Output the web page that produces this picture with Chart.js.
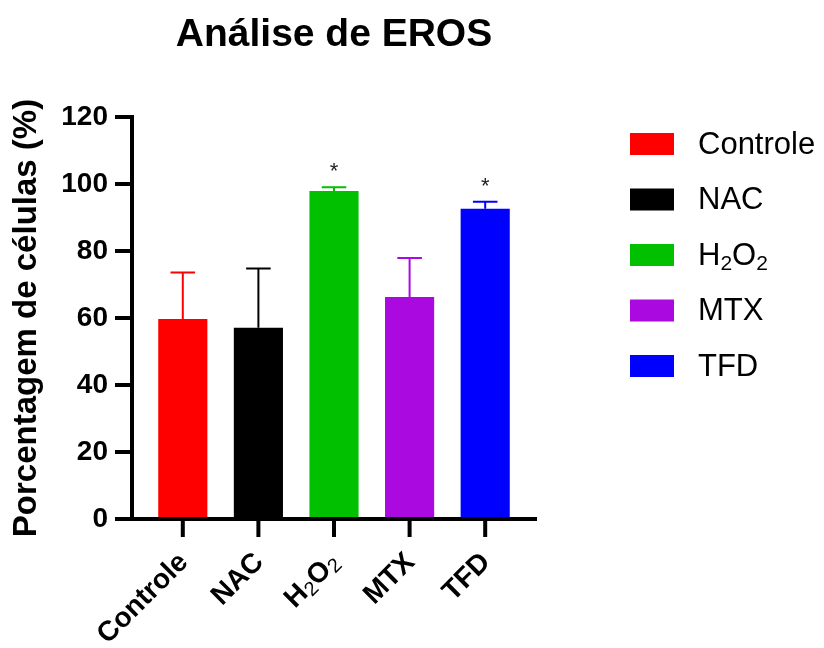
<!DOCTYPE html>
<html>
<head>
<meta charset="utf-8">
<title>Análise de EROS</title>
<script src="https://cdn.jsdelivr.net/npm/chart.js@4.4.1/dist/chart.umd.min.js"></script>
<style>
  html, body { margin: 0; padding: 0; background: #ffffff; }
  #wrap { width: 824px; height: 648px; }
</style>
</head>
<body>
<div id="wrap"><canvas id="eros" width="824" height="648"></canvas></div>
<script>
// Groups, mean percentage of cells and upper SD
const categories = ['Controle', 'NAC', 'H₂O₂', 'MTX', 'TFD'];
const means = [59.7, 57.1, 97.9, 66.3, 92.6];
const sdUpper = [13.9, 17.7, 1.1, 11.6, 2.1];
const significant = [false, false, true, false, true];
const barColors = ['#ff0000', '#000000', '#00c000', '#aa0ae0', '#0000ff'];
const yTicks = [0, 20, 40, 60, 80, 100, 120];

const FONT = "'Liberation Sans', Arial, Helvetica, sans-serif";

// Text with subscript digits (₀-₉) drawn as smaller, lowered glyphs
const SUB = { '₀': '0', '₁': '1', '₂': '2', '₃': '3', '₄': '4', '₅': '5', '₆': '6', '₇': '7', '₈': '8', '₉': '9' };
function splitRich(text) {
  const segs = [];
  for (const ch of text) {
    const sub = SUB[ch] !== undefined;
    const c = sub ? SUB[ch] : ch;
    const last = segs[segs.length - 1];
    if (last && last.sub === sub) last.t += c; else segs.push({ t: c, sub });
  }
  return segs;
}
function richWidth(ctx, segs, mainFont, subFont) {
  let w = 0;
  segs.forEach(s => { ctx.font = s.sub ? subFont : mainFont; w += ctx.measureText(s.t).width; });
  return w;
}
function drawRich(ctx, segs, x, y, mainFont, subFont, subShift) {
  segs.forEach(s => {
    ctx.font = s.sub ? subFont : mainFont;
    ctx.fillText(s.t, x, s.sub ? y + subShift : y);
    x += ctx.measureText(s.t).width;
  });
}

// Axes, ticks, error bars, significance marks, rotated category labels and legend
const prismStyle = {
  id: 'prismStyle',
  afterDatasetsDraw(chart) {
    const { ctx, chartArea, scales: { x, y } } = chart;
    const meta = chart.getDatasetMeta(0);
    const axisX = chartArea.left - 13;
    const zeroY = y.getPixelForValue(0);
    ctx.save();

    // error bars (upper only)
    meta.data.forEach((bar, i) => {
      const top = y.getPixelForValue(means[i]);
      const end = y.getPixelForValue(means[i] + sdUpper[i]);
      const cap = bar.width / 4;
      ctx.strokeStyle = barColors[i];
      ctx.lineWidth = 2;
      ctx.lineCap = 'butt';
      ctx.beginPath();
      ctx.moveTo(bar.x, top);
      ctx.lineTo(bar.x, end);
      ctx.moveTo(bar.x - cap, end);
      ctx.lineTo(bar.x + cap, end);
      ctx.stroke();
      if (significant[i]) {
        ctx.fillStyle = '#222222';
        ctx.font = '22px ' + FONT;
        ctx.textAlign = 'center';
        ctx.textBaseline = 'alphabetic';
        ctx.fillText('*', bar.x, end - 9);
      }
    });

    // axis lines and tick marks
    ctx.strokeStyle = '#000000';
    ctx.lineWidth = 4;
    ctx.beginPath();
    ctx.moveTo(axisX, y.getPixelForValue(120) - 2);
    ctx.lineTo(axisX, zeroY);
    ctx.moveTo(axisX - 17, zeroY);
    ctx.lineTo(chartArea.right + 14, zeroY);
    yTicks.forEach(v => {
      const py = y.getPixelForValue(v);
      ctx.moveTo(axisX - 17, py);
      ctx.lineTo(axisX, py);
    });
    categories.forEach((c, i) => {
      const px = x.getPixelForTick(i);
      ctx.moveTo(px, zeroY);
      ctx.lineTo(px, zeroY + 18);
    });
    ctx.stroke();

    // rotated category labels
    ctx.fillStyle = '#000000';
    ctx.textAlign = 'left';
    ctx.textBaseline = 'middle';
    const main = 'bold 28px ' + FONT;
    const subF = '20px ' + FONT;
    categories.forEach((c, i) => {
      const segs = splitRich(c);
      const w = richWidth(ctx, segs, main, subF);
      ctx.save();
      ctx.translate(x.getPixelForTick(i) + 1, zeroY + 39);
      ctx.rotate(-Math.PI / 4);
      drawRich(ctx, segs, -w, 0, main, subF, 6);
      ctx.restore();
    });

    // legend
    const lx = chartArea.right + 107;
    const ly = 144;
    const step = 55.5;
    const lMain = '31px ' + FONT;
    const lSub = '21px ' + FONT;
    categories.forEach((c, i) => {
      const cy = ly + i * step;
      ctx.fillStyle = barColors[i];
      ctx.fillRect(lx, cy - 11, 44, 22);
      ctx.fillStyle = '#000000';
      ctx.textBaseline = 'middle';
      drawRich(ctx, splitRich(c), lx + 68, cy + 1, lMain, lSub, 8);
    });
    ctx.restore();
  }
};

new Chart(document.getElementById('eros'), {
  type: 'bar',
  data: {
    labels: categories,
    datasets: [{
      data: means,
      backgroundColor: barColors,
      borderWidth: 0,
      categoryPercentage: 1,
      barPercentage: 0.65
    }]
  },
  options: {
    responsive: false,
    animation: false,
    devicePixelRatio: 1,
    layout: { padding: { left: 0, right: 301, top: 0, bottom: 0 } },
    plugins: {
      legend: { display: false },
      tooltip: { enabled: false },
      title: {
        display: true,
        fullSize: false,
        text: 'Análise de EROS',
        color: '#000000',
        font: { family: FONT, size: 39, weight: 'bold' },
        padding: { top: 12, bottom: 58.2 }
      }
    },
    scales: {
      x: {
        grid: { display: false, drawTicks: false },
        border: { display: false },
        ticks: { display: false },
        afterFit(scale) { scale.height = 129; }
      },
      y: {
        min: 0,
        max: 120,
        afterBuildTicks(scale) { scale.ticks = yTicks.map(v => ({ value: v })); },
        grid: { display: false, drawTicks: false },
        border: { display: false },
        ticks: {
          color: '#000000',
          padding: 37,
          font: { family: FONT, size: 28, weight: 'bold' }
        },
        title: {
          display: true,
          text: 'Porcentagem de células (%)',
          color: '#000000',
          font: { family: FONT, size: 33, weight: 'bold' },
          padding: { top: 7, bottom: 0 }
        },
        afterFit(scale) { scale.width = 145; }
      }
    }
  },
  plugins: [prismStyle]
});
</script>
</body>
</html>
